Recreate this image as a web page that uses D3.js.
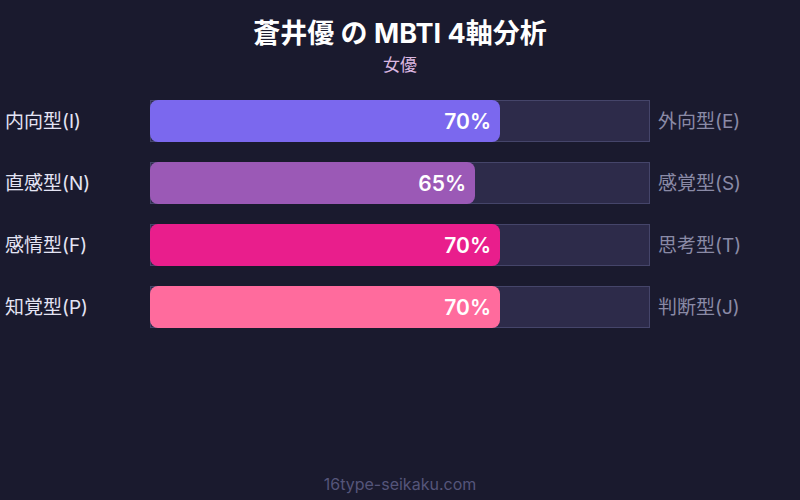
<!DOCTYPE html>
<html>
<head>
<meta charset="utf-8">
<script src="https://cdn.jsdelivr.net/npm/d3@7"></script>
<style>
  body { margin: 0; background: #1a1a2e; }
  svg { display: block; font-family: Inter, "Noto Sans CJK JP", sans-serif; }
</style>
</head>
<body>
<div id="chart"></div>
<script>
// MBTI axes: left trait, right trait, percent for the left trait
var leftLabels = ['内向型(I)', '直感型(N)', '感情型(F)', '知覚型(P)'];
var rightLabels = ['外向型(E)', '感覚型(S)', '思考型(T)', '判断型(J)'];
var percents = [70, 65, 70, 70];
var barColors = ['#7b68ee', '#9b59b6', '#e91e8c', '#ff6b9d'];

var width = 800, height = 500;

var svg = d3.select('#chart').append('svg')
    .attr('width', width)
    .attr('height', height);

svg.append('rect')
    .attr('width', width)
    .attr('height', height)
    .attr('fill', '#1a1a2e');

// title
svg.append('text')
    .attr('x', width / 2)
    .attr('y', 43)
    .attr('text-anchor', 'middle')
    .attr('fill', '#ffffff')
    .attr('font-size', 27)
    .attr('font-weight', 'bold')
    .text('蒼井優 の MBTI 4軸分析');

svg.append('text')
    .attr('x', width / 2)
    .attr('y', 71)
    .attr('text-anchor', 'middle')
    .attr('fill', '#dab6e0')
    .attr('font-size', 17)
    .text('女優');

var x = d3.scaleLinear().domain([0, 100]).range([150, 650]);
// 42px bars on a 62px step
var y = d3.scaleBand().domain(d3.range(leftLabels.length))
    .range([100, 328])
    .paddingInner(20 / 62)
    .paddingOuter(0);
var bh = y.bandwidth();

var rows = svg.selectAll('g.row')
    .data(percents)
    .join('g')
    .attr('class', 'row');

// track
rows.append('rect')
    .attr('x', x(0) + 0.5)
    .attr('y', function(d, i) { return y(i) + 0.5; })
    .attr('width', x(100) - x(0) - 1)
    .attr('height', bh - 1)
    .attr('fill', '#2d2b4a')
    .attr('stroke', '#45456a')
    .attr('stroke-width', 1);

// bar
rows.append('rect')
    .attr('x', x(0))
    .attr('y', function(d, i) { return y(i); })
    .attr('width', function(d) { return x(d) - x(0); })
    .attr('height', bh)
    .attr('rx', 8)
    .attr('fill', function(d, i) { return barColors[i]; });

// value label
rows.append('text')
    .attr('x', function(d) { return x(d) - 9; })
    .attr('y', function(d, i) { return y(i) + bh / 2; })
    .attr('dy', '0.36em')
    .attr('text-anchor', 'end')
    .attr('fill', '#ffffff')
    .attr('font-size', 21)
    .attr('font-weight', 600)
    .text(function(d) { return d + '%'; });

rows.append('text')
    .attr('x', 5)
    .attr('y', function(d, i) { return y(i) + bh / 2; })
    .attr('dy', '0.36em')
    .attr('fill', '#e4e4f4')
    .attr('font-size', 19)
    .text(function(d, i) { return leftLabels[i]; });

rows.append('text')
    .attr('x', 658)
    .attr('y', function(d, i) { return y(i) + bh / 2; })
    .attr('dy', '0.36em')
    .attr('fill', '#8a8aa6')
    .attr('font-size', 19)
    .text(function(d, i) { return rightLabels[i]; });

// footer
svg.append('text')
    .attr('x', width / 2)
    .attr('y', 490)
    .attr('text-anchor', 'middle')
    .attr('fill', '#55557a')
    .attr('font-size', 16)
    .text('16type-seikaku.com');
</script>
</body>
</html>
